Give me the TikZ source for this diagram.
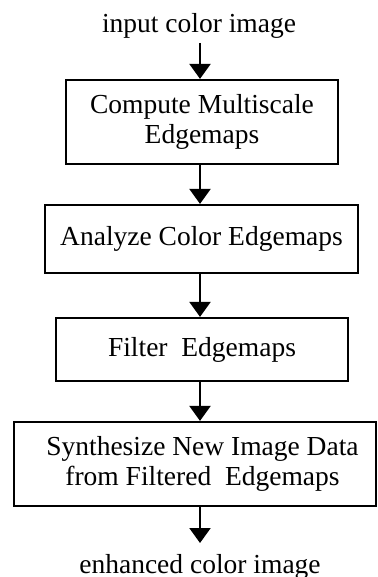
\documentclass[tikz,border=0pt]{standalone}
\usepackage{fontspec}
\setmainfont{Liberation Serif}
\usetikzlibrary{arrows.meta}
\tikzset{
  x=1pt, y=-1pt,
  stage/.style={draw, line width=2.2pt, inner sep=0pt, align=center,
    font=\fontsize{27.5}{30}\selectfont},
  label/.style={inner sep=0pt, anchor=base, font=\fontsize{27.5}{30}\selectfont},
  flow/.style={line width=2.2pt, -{Triangle[width=21pt, length=15pt]}}
}
\begin{document}
\begin{tikzpicture}
  \useasboundingbox (0,0) rectangle (377,577);

  % input and output labels
  \node[label] (inp) at (199,33) {input color image};
  \node[label] (out) at (200,573) {enhanced color image};
  \coordinate (inptail) at (200,43);
  \coordinate (outtip) at (200,543);

  % processing stages
  \node[stage, minimum width=272pt, minimum height=84pt] (compute) at (202,122)
    {Compute Multiscale\\Edgemaps};
  \node[stage, minimum width=313pt, minimum height=68pt] (analyze) at (201.5,239)
    {Analyze Color Edgemaps};
  \node[stage, minimum width=292pt, minimum height=63pt] (filter) at (202,349.5)
    {Filter\ \ Edgemaps};
  \node[stage, minimum width=362pt, minimum height=84pt] (synth) at (195,464)
    {\hspace*{15pt}Synthesize New Image Data\\\hspace*{15pt}from Filtered\ \ Edgemaps};

  % connectors
  \draw[flow] (inptail) -- (compute.north -| inptail);
  \draw[flow] (compute.south -| inptail) -- (analyze.north -| inptail);
  \draw[flow] (analyze.south -| inptail) -- (filter.north -| inptail);
  \draw[flow] (filter.south -| inptail) -- (synth.north -| inptail);
  \draw[flow] (synth.south -| inptail) -- (outtip);
\end{tikzpicture}
\end{document}
